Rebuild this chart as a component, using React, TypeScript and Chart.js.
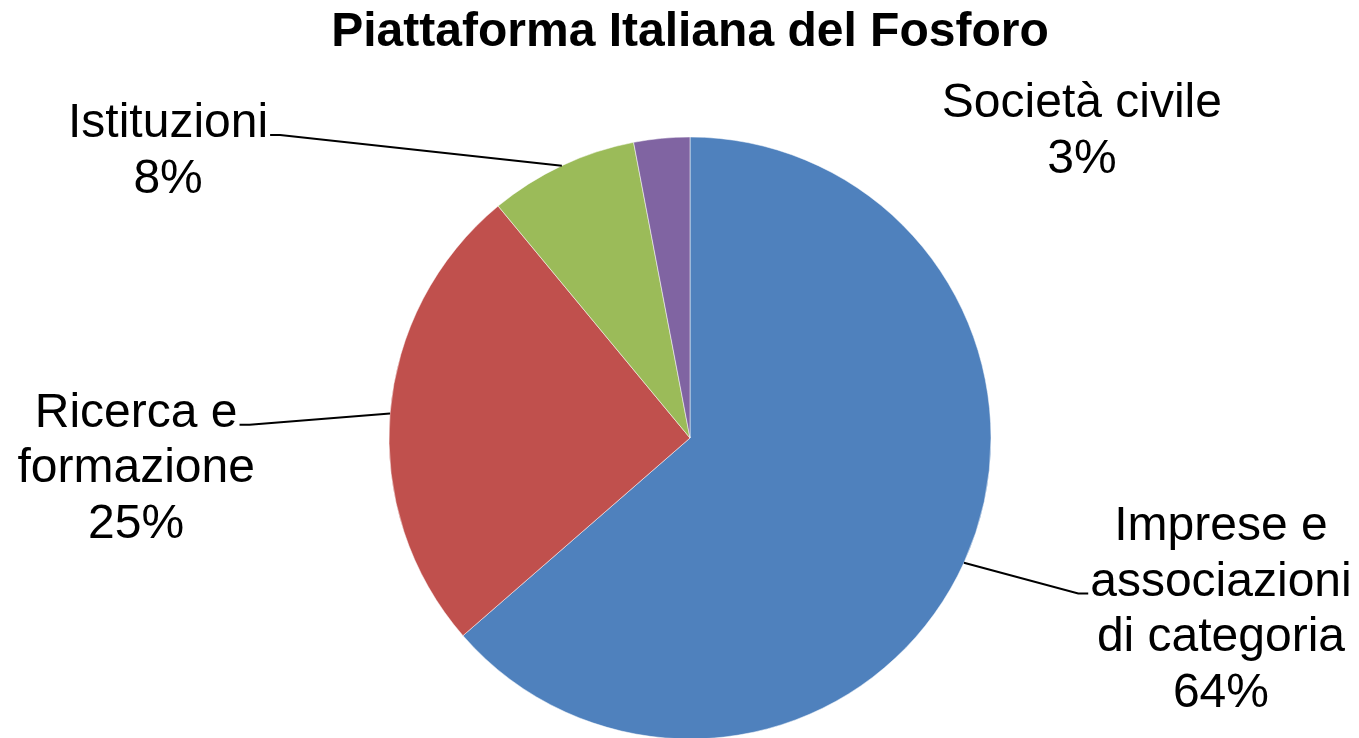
import React, { useEffect, useRef } from "react";
import { Chart, registerables } from "chart.js";

Chart.register(...registerables);

const titleText = "Piattaforma Italiana del Fosforo";
const categories = ["Imprese e associazioni di categoria", "Ricerca e formazione", "Istituzioni", "Società civile"];
const labelLines = [
  ["Imprese e", "associazioni", "di categoria"],
  ["Ricerca e", "formazione"],
  ["Istituzioni"],
  ["Società civile"],
];
const shares = [63.6, 25.4, 8.0, 3.0];
const colors = ["#4F81BD", "#C0504D", "#9BBB59", "#8064A2"];

// label layout (style): offset of first baseline/center from pie center, in radii
const labelLayout = [
  { dx: 1.764, dy: 0.339, leaderLine: 1, side: "left" },
  { dx: -1.84, dy: -0.037, leaderLine: 0, side: "right" },
  { dx: -1.734, dy: -1.0, leaderLine: 0, side: "right" },
  { dx: 1.302, dy: -1.066, leaderLine: -1, side: "none" },
];

const FONT = "'Liberation Sans', Arial, sans-serif";

const labelPlugin = {
  id: "pieLabels",
  afterDraw(chart: any) {
    const ctx = chart.ctx;
    const meta = chart.getDatasetMeta(0);
    const area = chart.chartArea;
    const total = shares.reduce((a, b) => a + b, 0);
    ctx.save();
    const first = meta.data[0];
    const cx = first.x;
    const cy = first.y;
    const r = first.outerRadius;
    ctx.fillStyle = "#000";
    ctx.textAlign = "center";
    ctx.textBaseline = "alphabetic";
    ctx.font = `bold 48px ${FONT}`;
    ctx.fillText(titleText, cx, area.top - 92);

    ctx.font = `48px ${FONT}`;
    const lh = 55.5;
    meta.data.forEach((arc: any, i: number) => {
      const lay = labelLayout[i];
      const lines = [...labelLines[i], Math.round((shares[i] / total) * 100) + "%"];
      const lx = cx + lay.dx * r;
      const ly = cy + lay.dy * r;
      lines.forEach((t, k) => ctx.fillText(t, lx, ly + k * lh));
      if (lay.leaderLine >= 0) {
        const mid = (arc.startAngle + arc.endAngle) / 2;
        const px = cx + Math.cos(mid) * r;
        const py = cy + Math.sin(mid) * r;
        const t = lines[lay.leaderLine];
        const w = ctx.measureText(t).width;
        const y = ly + lay.leaderLine * lh - 2;
        let x0, x1;
        if (lay.side === "right") {
          x0 = lx + w / 2 + 2;
          x1 = x0 + 10;
        } else {
          x0 = lx - w / 2 - 2;
          x1 = x0 - 10;
        }
        ctx.strokeStyle = "#000";
        ctx.lineWidth = 2;
        ctx.beginPath();
        ctx.moveTo(x0, y);
        ctx.lineTo(x1, y);
        ctx.lineTo(px, py);
        ctx.stroke();
      }
    });
    ctx.restore();
  },
};

export default function App() {
  const ref = useRef<HTMLCanvasElement>(null);
  useEffect(() => {
    document.body.style.margin = "0";
    document.body.style.overflow = "hidden";
    const chart = new Chart(ref.current as HTMLCanvasElement, {
      type: "pie",
      data: {
        labels: categories,
        datasets: [
          {
            data: shares,
            backgroundColor: colors,
            borderColor: "rgba(255,255,255,0.5)",
            borderWidth: 1,
            radius: 301,
          } as any,
        ],
      },
      options: {
        animation: false,
        responsive: false,
        devicePixelRatio: 1,
        layout: { padding: { left: 21, right: 0, top: 138, bottom: 0 } },
        plugins: {
          legend: { display: false },
          tooltip: { enabled: false },
          title: { display: false },
        },
      },
      plugins: [labelPlugin],
    });
    return () => chart.destroy();
  }, []);
  return (
    <div style={{ width: 1359, height: 738, background: "#fff" }}>
      <canvas ref={ref} width={1359} height={738} />
    </div>
  );
}
